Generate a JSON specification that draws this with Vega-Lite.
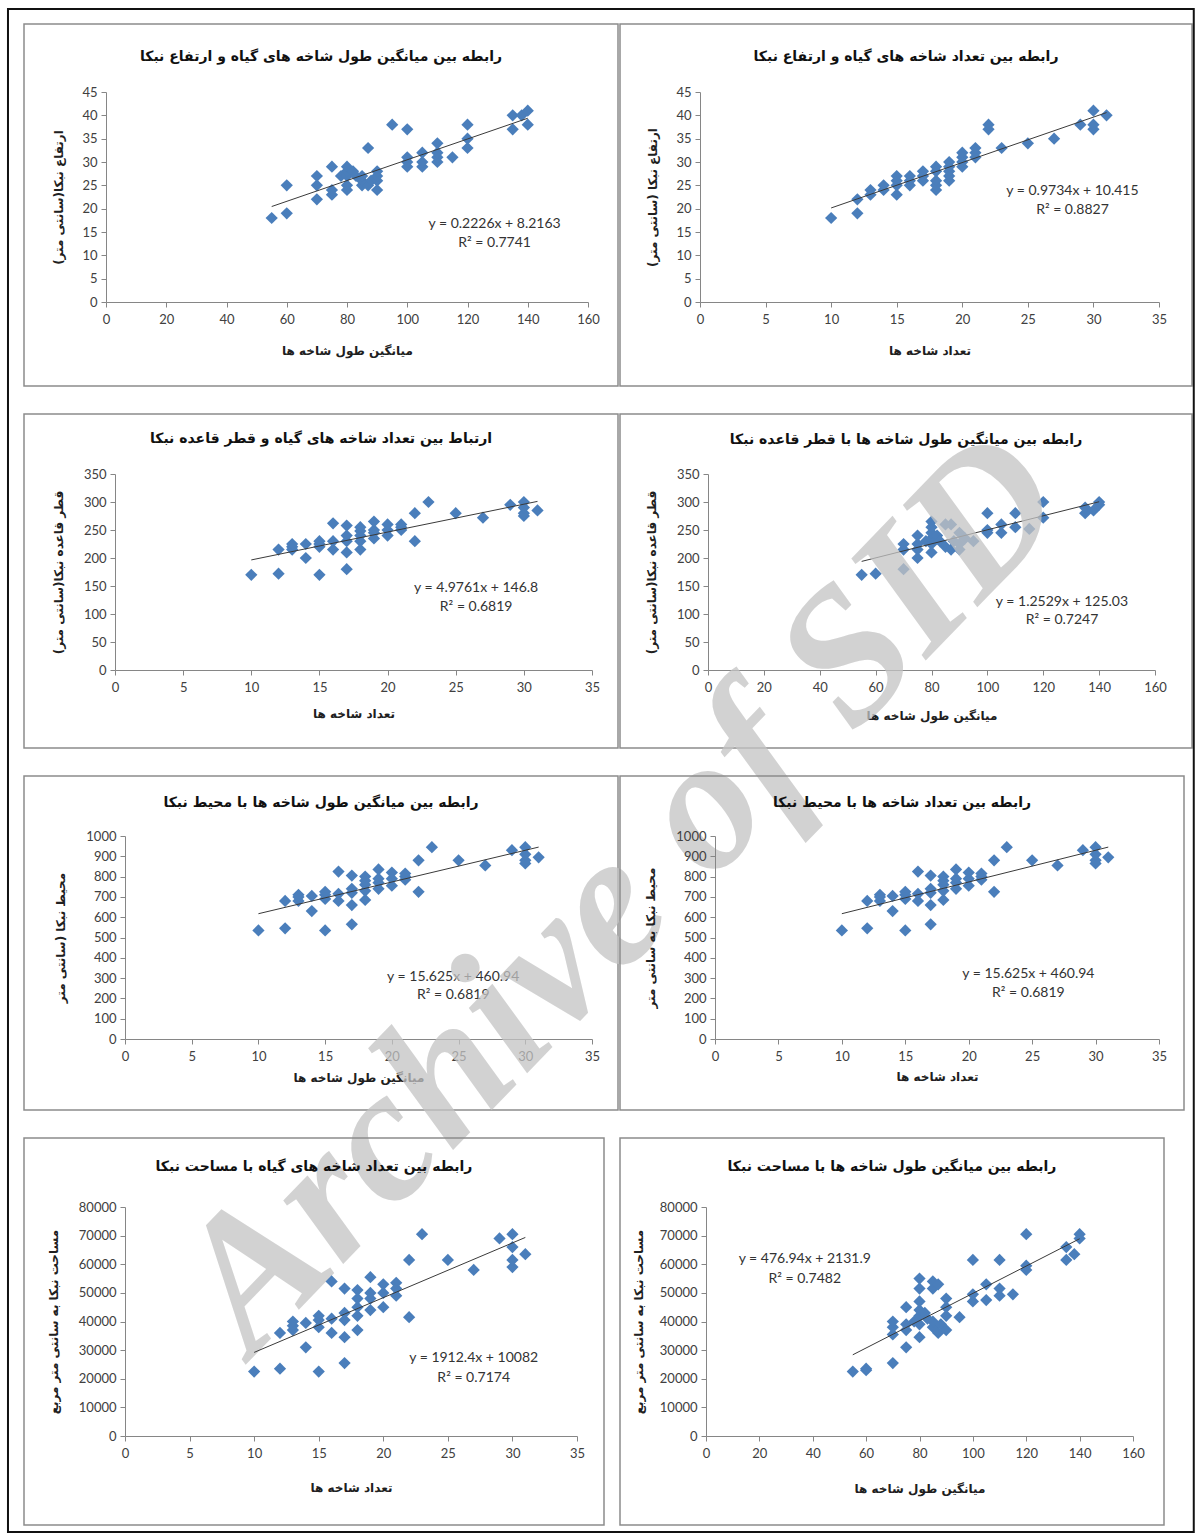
{
  "$schema": "https://vega.github.io/schema/vega-lite/v6.json",
  "padding": {"left": 6, "top": 7, "right": 0, "bottom": 0},
  "background": "white",
  "bounds": "flush",
  "columns": 2,
  "spacing": {"row": 28, "column": 2},
  "datasets": {
    "p1": [{"x":55,"y":18},{"x":60,"y":19},{"x":60,"y":25},{"x":70,"y":22},{"x":70,"y":25},{"x":70,"y":27},{"x":75,"y":23},{"x":75,"y":24},{"x":75,"y":29},{"x":78,"y":27},{"x":80,"y":24},{"x":80,"y":25},{"x":80,"y":27},{"x":80,"y":28},{"x":80,"y":29},{"x":82,"y":28},{"x":83,"y":27},{"x":85,"y":25},{"x":85,"y":26},{"x":85,"y":27},{"x":87,"y":25},{"x":87,"y":33},{"x":88,"y":26},{"x":90,"y":24},{"x":90,"y":26},{"x":90,"y":27},{"x":90,"y":28},{"x":95,"y":38},{"x":100,"y":29},{"x":100,"y":30},{"x":100,"y":31},{"x":100,"y":37},{"x":105,"y":29},{"x":105,"y":30},{"x":105,"y":32},{"x":110,"y":30},{"x":110,"y":31},{"x":110,"y":32},{"x":110,"y":34},{"x":115,"y":31},{"x":120,"y":33},{"x":120,"y":35},{"x":120,"y":38},{"x":135,"y":37},{"x":135,"y":40},{"x":138,"y":40},{"x":140,"y":38},{"x":140,"y":41}],
    "p2": [{"x":10,"y":18},{"x":12,"y":19},{"x":12,"y":22},{"x":13,"y":23},{"x":13,"y":24},{"x":14,"y":24},{"x":14,"y":25},{"x":15,"y":23},{"x":15,"y":25},{"x":15,"y":26},{"x":15,"y":27},{"x":16,"y":25},{"x":16,"y":26},{"x":16,"y":27},{"x":17,"y":26},{"x":17,"y":27},{"x":17,"y":28},{"x":18,"y":24},{"x":18,"y":25},{"x":18,"y":26},{"x":18,"y":28},{"x":18,"y":29},{"x":19,"y":26},{"x":19,"y":27},{"x":19,"y":28},{"x":19,"y":29},{"x":19,"y":30},{"x":20,"y":29},{"x":20,"y":30},{"x":20,"y":31},{"x":20,"y":32},{"x":21,"y":31},{"x":21,"y":32},{"x":21,"y":33},{"x":22,"y":37},{"x":22,"y":38},{"x":23,"y":33},{"x":25,"y":34},{"x":27,"y":35},{"x":29,"y":38},{"x":30,"y":37},{"x":30,"y":38},{"x":30,"y":41},{"x":31,"y":40}],
    "p3": [{"x":10,"y":170},{"x":12,"y":172},{"x":12,"y":215},{"x":13,"y":215},{"x":13,"y":220},{"x":13,"y":225},{"x":14,"y":200},{"x":14,"y":225},{"x":15,"y":170},{"x":15,"y":220},{"x":15,"y":225},{"x":15,"y":230},{"x":16,"y":215},{"x":16,"y":230},{"x":16,"y":262},{"x":17,"y":180},{"x":17,"y":210},{"x":17,"y":230},{"x":17,"y":240},{"x":17,"y":258},{"x":18,"y":215},{"x":18,"y":230},{"x":18,"y":240},{"x":18,"y":248},{"x":18,"y":255},{"x":19,"y":235},{"x":19,"y":245},{"x":19,"y":250},{"x":19,"y":265},{"x":20,"y":240},{"x":20,"y":250},{"x":20,"y":260},{"x":21,"y":250},{"x":21,"y":255},{"x":21,"y":260},{"x":22,"y":230},{"x":22,"y":280},{"x":23,"y":300},{"x":25,"y":280},{"x":27,"y":272},{"x":29,"y":295},{"x":30,"y":275},{"x":30,"y":280},{"x":30,"y":290},{"x":30,"y":300},{"x":31,"y":285}],
    "p4": [{"x":55,"y":170},{"x":60,"y":172},{"x":70,"y":180},{"x":70,"y":215},{"x":70,"y":225},{"x":75,"y":200},{"x":75,"y":215},{"x":75,"y":225},{"x":75,"y":240},{"x":78,"y":230},{"x":80,"y":210},{"x":80,"y":225},{"x":80,"y":235},{"x":80,"y":245},{"x":80,"y":255},{"x":80,"y":265},{"x":82,"y":240},{"x":83,"y":230},{"x":85,"y":220},{"x":85,"y":260},{"x":87,"y":215},{"x":87,"y":260},{"x":88,"y":230},{"x":90,"y":215},{"x":90,"y":225},{"x":90,"y":245},{"x":92,"y":235},{"x":95,"y":230},{"x":100,"y":245},{"x":100,"y":250},{"x":100,"y":280},{"x":105,"y":245},{"x":105,"y":260},{"x":110,"y":255},{"x":110,"y":280},{"x":115,"y":252},{"x":120,"y":272},{"x":120,"y":300},{"x":135,"y":280},{"x":135,"y":290},{"x":138,"y":285},{"x":140,"y":295},{"x":140,"y":300}],
    "circ": [{"x":10,"y":535},{"x":12,"y":545},{"x":12,"y":680},{"x":13,"y":680},{"x":13,"y":700},{"x":13,"y":710},{"x":14,"y":630},{"x":14,"y":705},{"x":15,"y":535},{"x":15,"y":690},{"x":15,"y":710},{"x":15,"y":725},{"x":16,"y":680},{"x":16,"y":715},{"x":16,"y":825},{"x":17,"y":565},{"x":17,"y":660},{"x":17,"y":720},{"x":17,"y":740},{"x":17,"y":805},{"x":18,"y":685},{"x":18,"y":730},{"x":18,"y":760},{"x":18,"y":780},{"x":18,"y":800},{"x":19,"y":740},{"x":19,"y":770},{"x":19,"y":790},{"x":19,"y":835},{"x":20,"y":755},{"x":20,"y":790},{"x":20,"y":820},{"x":21,"y":785},{"x":21,"y":800},{"x":21,"y":815},{"x":22,"y":725},{"x":22,"y":880},{"x":23,"y":945},{"x":25,"y":880},{"x":27,"y":855},{"x":29,"y":930},{"x":30,"y":865},{"x":30,"y":880},{"x":30,"y":910},{"x":30,"y":945},{"x":31,"y":895}],
    "p7": [{"x":10,"y":22500},{"x":12,"y":23500},{"x":12,"y":36000},{"x":13,"y":37000},{"x":13,"y":38500},{"x":13,"y":40000},{"x":14,"y":31000},{"x":14,"y":39500},{"x":15,"y":22500},{"x":15,"y":38000},{"x":15,"y":40500},{"x":15,"y":42000},{"x":16,"y":36000},{"x":16,"y":41000},{"x":16,"y":54000},{"x":17,"y":25500},{"x":17,"y":34500},{"x":17,"y":40500},{"x":17,"y":43000},{"x":17,"y":51500},{"x":18,"y":37000},{"x":18,"y":42000},{"x":18,"y":45000},{"x":18,"y":48000},{"x":18,"y":51000},{"x":19,"y":44000},{"x":19,"y":48000},{"x":19,"y":50000},{"x":19,"y":55500},{"x":20,"y":45000},{"x":20,"y":50000},{"x":20,"y":53000},{"x":21,"y":49000},{"x":21,"y":51500},{"x":21,"y":53500},{"x":22,"y":41500},{"x":22,"y":61500},{"x":23,"y":70500},{"x":25,"y":61500},{"x":27,"y":58000},{"x":29,"y":69000},{"x":30,"y":59000},{"x":30,"y":61500},{"x":30,"y":66000},{"x":30,"y":70500},{"x":31,"y":63500}],
    "p8": [{"x":55,"y":22500},{"x":60,"y":23000},{"x":60,"y":23500},{"x":70,"y":25500},{"x":70,"y":35500},{"x":70,"y":38000},{"x":70,"y":40000},{"x":75,"y":31000},{"x":75,"y":37000},{"x":75,"y":39000},{"x":75,"y":45000},{"x":78,"y":40000},{"x":80,"y":34500},{"x":80,"y":39000},{"x":80,"y":42000},{"x":80,"y":44000},{"x":80,"y":47000},{"x":80,"y":51500},{"x":80,"y":55000},{"x":82,"y":43000},{"x":83,"y":41000},{"x":85,"y":38000},{"x":85,"y":40000},{"x":85,"y":51500},{"x":85,"y":54000},{"x":87,"y":36000},{"x":87,"y":53000},{"x":88,"y":39000},{"x":90,"y":37000},{"x":90,"y":42000},{"x":90,"y":45000},{"x":90,"y":48000},{"x":95,"y":41500},{"x":100,"y":47000},{"x":100,"y":49500},{"x":100,"y":61500},{"x":105,"y":47500},{"x":105,"y":53000},{"x":110,"y":49000},{"x":110,"y":51500},{"x":110,"y":61500},{"x":115,"y":49500},{"x":120,"y":58000},{"x":120,"y":59500},{"x":120,"y":70500},{"x":135,"y":61500},{"x":135,"y":66000},{"x":138,"y":63500},{"x":140,"y":69000},{"x":140,"y":70500}],
    "l1": [{"x":55,"y":20.46},{"x":140,"y":39.38}],
    "l2": [{"x":10,"y":20.15},{"x":31,"y":40.59}],
    "l3": [{"x":10,"y":196.56},{"x":31,"y":301.06}],
    "l4": [{"x":55,"y":193.94},{"x":140,"y":300.44}],
    "lc": [{"x":10,"y":617.19},{"x":31,"y":945.32}],
    "l7": [{"x":10,"y":29206},{"x":31,"y":69366}],
    "l8": [{"x":55,"y":28363},{"x":140,"y":68903}]
  },
  "concat": [
    {
      "width": 594, "height": 362,
      "title": {"text": "رابطه بین میانگین طول شاخه های گیاه و ارتفاع نبکا", "offset": -40},
      "layer": [
        {"data": {"name": "p1"}, "mark": {"type": "point", "shape": "diamond", "filled": true, "size": 150, "color": "#4a7ebb", "opacity": 1},
         "encoding": {
           "x": {"field": "x", "type": "quantitative", "scale": {"domain": [0, 160], "range": [82, 564], "nice": false, "zero": false}, "axis": {"title": "میانگین طول شاخه ها", "values": [0,20,40,60,80,100,120,140,160], "tickCount": 30, "offset": -84, "titlePadding": 19, "labelOverlap": false}},
           "y": {"field": "y", "type": "quantitative", "scale": {"domain": [0, 45], "range": [278, 68], "nice": false, "zero": false}, "axis": {"title": "ارتفاع نبکا(سانتی متر)", "values": [0,5,10,15,20,25,30,35,40,45], "tickCount": 30, "offset": -82, "titlePadding": 16, "labelOverlap": false}}
         }},
        {"data": {"name": "l1"}, "mark": {"type": "line", "color": "#3a3a3a", "strokeWidth": 1},
         "encoding": {"x": {"field": "x", "type": "quantitative"}, "y": {"field": "y", "type": "quantitative"}}},
        {"data": {"values": [{}]}, "mark": {"type": "text", "font": "Lato", "fontSize": 14, "color": "#333333"},
         "encoding": {"x": {"datum": 129, "type": "quantitative"}, "y": {"datum": 16.7, "type": "quantitative"}, "text": {"value": "y = 0.2226x + 8.2163"}}},
        {"data": {"values": [{}]}, "mark": {"type": "text", "font": "Lato", "fontSize": 14, "color": "#333333"},
         "encoding": {"x": {"datum": 129, "type": "quantitative"}, "y": {"datum": 12.6, "type": "quantitative"}, "text": {"value": "R² = 0.7741"}}}
      ]
    },
    {
      "width": 572, "height": 362,
      "title": {"text": "رابطه بین تعداد شاخه های گیاه و ارتفاع نبکا", "offset": -40},
      "layer": [
        {"data": {"name": "p2"}, "mark": {"type": "point", "shape": "diamond", "filled": true, "size": 150, "color": "#4a7ebb", "opacity": 1},
         "encoding": {
           "x": {"field": "x", "type": "quantitative", "scale": {"domain": [0, 35], "range": [80, 539], "nice": false, "zero": false}, "axis": {"title": "تعداد شاخه ها", "values": [0,5,10,15,20,25,30,35], "tickCount": 30, "offset": -84, "titlePadding": 19, "labelOverlap": false}},
           "y": {"field": "y", "type": "quantitative", "scale": {"domain": [0, 45], "range": [278, 68], "nice": false, "zero": false}, "axis": {"title": "ارتفاع نبکا (سانتی متر)", "values": [0,5,10,15,20,25,30,35,40,45], "tickCount": 30, "offset": -80, "titlePadding": 16, "labelOverlap": false}}
         }},
        {"data": {"name": "l2"}, "mark": {"type": "line", "color": "#3a3a3a", "strokeWidth": 1},
         "encoding": {"x": {"field": "x", "type": "quantitative"}, "y": {"field": "y", "type": "quantitative"}}},
        {"data": {"values": [{}]}, "mark": {"type": "text", "font": "Lato", "fontSize": 14, "color": "#333333"},
         "encoding": {"x": {"datum": 28.4, "type": "quantitative"}, "y": {"datum": 23.8, "type": "quantitative"}, "text": {"value": "y = 0.9734x + 10.415"}}},
        {"data": {"values": [{}]}, "mark": {"type": "text", "font": "Lato", "fontSize": 14, "color": "#333333"},
         "encoding": {"x": {"datum": 28.4, "type": "quantitative"}, "y": {"datum": 19.7, "type": "quantitative"}, "text": {"value": "R² = 0.8827"}}}
      ]
    },
    {
      "width": 594, "height": 334,
      "title": {"text": "ارتباط بین تعداد شاخه های گیاه و قطر قاعده نبکا", "offset": -32},
      "layer": [
        {"data": {"name": "p3"}, "mark": {"type": "point", "shape": "diamond", "filled": true, "size": 150, "color": "#4a7ebb", "opacity": 1},
         "encoding": {
           "x": {"field": "x", "type": "quantitative", "scale": {"domain": [0, 35], "range": [91, 568], "nice": false, "zero": false}, "axis": {"title": "تعداد شاخه ها", "values": [0,5,10,15,20,25,30,35], "tickCount": 30, "offset": -78, "titlePadding": 14, "labelOverlap": false}},
           "y": {"field": "y", "type": "quantitative", "scale": {"domain": [0, 350], "range": [256, 60], "nice": false, "zero": false}, "axis": {"title": "قطر قاعده نبکا(سانتی متر)", "values": [0,50,100,150,200,250,300,350], "tickCount": 30, "offset": -91, "titlePadding": 18, "labelOverlap": false}}
         }},
        {"data": {"name": "l3"}, "mark": {"type": "line", "color": "#3a3a3a", "strokeWidth": 1},
         "encoding": {"x": {"field": "x", "type": "quantitative"}, "y": {"field": "y", "type": "quantitative"}}},
        {"data": {"values": [{}]}, "mark": {"type": "text", "font": "Lato", "fontSize": 14, "color": "#333333"},
         "encoding": {"x": {"datum": 26.5, "type": "quantitative"}, "y": {"datum": 146, "type": "quantitative"}, "text": {"value": "y = 4.9761x + 146.8"}}},
        {"data": {"values": [{}]}, "mark": {"type": "text", "font": "Lato", "fontSize": 14, "color": "#333333"},
         "encoding": {"x": {"datum": 26.5, "type": "quantitative"}, "y": {"datum": 112, "type": "quantitative"}, "text": {"value": "R² = 0.6819"}}}
      ]
    },
    {
      "width": 572, "height": 334,
      "title": {"text": "رابطه بین میانگین طول شاخه ها با قطر قاعده نبکا", "offset": -33},
      "layer": [
        {"data": {"name": "p4"}, "mark": {"type": "point", "shape": "diamond", "filled": true, "size": 150, "color": "#4a7ebb", "opacity": 1},
         "encoding": {
           "x": {"field": "x", "type": "quantitative", "scale": {"domain": [0, 160], "range": [88, 535], "nice": false, "zero": false}, "axis": {"title": "میانگین طول شاخه ها", "values": [0,20,40,60,80,100,120,140,160], "tickCount": 30, "offset": -78, "titlePadding": 16, "labelOverlap": false}},
           "y": {"field": "y", "type": "quantitative", "scale": {"domain": [0, 350], "range": [256, 60], "nice": false, "zero": false}, "axis": {"title": "قطر قاعده نبکا(سانتی متر)", "values": [0,50,100,150,200,250,300,350], "tickCount": 30, "offset": -88, "titlePadding": 18, "labelOverlap": false}}
         }},
        {"data": {"name": "l4"}, "mark": {"type": "line", "color": "#3a3a3a", "strokeWidth": 1},
         "encoding": {"x": {"field": "x", "type": "quantitative"}, "y": {"field": "y", "type": "quantitative"}}},
        {"data": {"values": [{}]}, "mark": {"type": "text", "font": "Lato", "fontSize": 14, "color": "#333333"},
         "encoding": {"x": {"datum": 126.7, "type": "quantitative"}, "y": {"datum": 121, "type": "quantitative"}, "text": {"value": "y = 1.2529x + 125.03"}}},
        {"data": {"values": [{}]}, "mark": {"type": "text", "font": "Lato", "fontSize": 14, "color": "#333333"},
         "encoding": {"x": {"datum": 126.7, "type": "quantitative"}, "y": {"datum": 89, "type": "quantitative"}, "text": {"value": "R² = 0.7247"}}}
      ]
    },
    {
      "width": 594, "height": 334,
      "layer": [
        {"data": {"name": "circ"}, "mark": {"type": "point", "shape": "diamond", "filled": true, "size": 150, "color": "#4a7ebb", "opacity": 1},
         "encoding": {
           "x": {"field": "x", "type": "quantitative", "scale": {"domain": [0, 35], "range": [101, 568], "nice": false, "zero": false}, "axis": {"title": "میانگین طول شاخه ها", "values": [0,5,10,15,20,25,30,35], "tickCount": 30, "offset": -71, "titlePadding": 9, "labelOverlap": false}},
           "y": {"field": "y", "type": "quantitative", "scale": {"domain": [0, 1000], "range": [263, 60], "nice": false, "zero": false}, "axis": {"title": "محیط نبکا (سانتی متر", "values": [0,100,200,300,400,500,600,700,800,900,1000], "tickCount": 30, "offset": -101, "titlePadding": 18, "labelOverlap": false}}
         }},
        {"data": {"name": "lc"}, "mark": {"type": "line", "color": "#3a3a3a", "strokeWidth": 1},
         "encoding": {"x": {"field": "x", "type": "quantitative"}, "y": {"field": "y", "type": "quantitative"}}},
        {"data": {"values": [{}]}, "mark": {"type": "text", "font": "DejaVu Sans", "fontWeight": "bold", "fontSize": 14, "color": "#111111"},
         "encoding": {"x": {"datum": 14.69, "type": "quantitative"}, "y": {"datum": 1162, "type": "quantitative"}, "text": {"value": "رابطه بین میانگین طول شاخه ها با محیط نبکا"}}},
        {"data": {"values": [{}]}, "mark": {"type": "text", "font": "Lato", "fontSize": 14, "color": "#333333"},
         "encoding": {"x": {"datum": 24.6, "type": "quantitative"}, "y": {"datum": 305, "type": "quantitative"}, "text": {"value": "y = 15.625x + 460.94"}}},
        {"data": {"values": [{}]}, "mark": {"type": "text", "font": "Lato", "fontSize": 14, "color": "#333333"},
         "encoding": {"x": {"datum": 24.6, "type": "quantitative"}, "y": {"datum": 217, "type": "quantitative"}, "text": {"value": "R² = 0.6819"}}},
        {"data": {"values": [{}]}, "mark": {"type": "text", "font": "Liberation Serif", "fontStyle": "italic", "fontWeight": "bold", "fontSize": 190, "angle": -46, "color": "#c4c4c4", "opacity": 0.75, "align": "center", "baseline": "middle"},
         "encoding": {"x": {"datum": 37.25, "type": "quantitative"}, "y": {"datum": 719, "type": "quantitative"}, "text": {"value": "Archive of SID"}}},
        {"data": {"values": [{}]}, "mark": {"type": "rect", "fillOpacity": 0, "stroke": "#111111", "strokeWidth": 2},
         "encoding": {"x": {"datum": -8.77, "type": "quantitative"}, "x2": {"datum": 80.1}, "y": {"datum": 5074, "type": "quantitative"}, "y2": {"datum": -2429}}}
      ]
    },
    {
      "width": 564, "height": 334,
      "title": {"text": "رابطه بین تعداد شاخه ها با محیط نبکا", "offset": -34},
      "layer": [
        {"data": {"name": "circ"}, "mark": {"type": "point", "shape": "diamond", "filled": true, "size": 150, "color": "#4a7ebb", "opacity": 1},
         "encoding": {
           "x": {"field": "x", "type": "quantitative", "scale": {"domain": [0, 35], "range": [95, 539], "nice": false, "zero": false}, "axis": {"title": "تعداد شاخه ها", "values": [0,5,10,15,20,25,30,35], "tickCount": 30, "offset": -71, "titlePadding": 8, "labelOverlap": false}},
           "y": {"field": "y", "type": "quantitative", "scale": {"domain": [0, 1000], "range": [263, 60], "nice": false, "zero": false}, "axis": {"title": "محیط نبکا به سانتی متر", "values": [0,100,200,300,400,500,600,700,800,900,1000], "tickCount": 30, "offset": -95, "titlePadding": 18, "labelOverlap": false}}
         }},
        {"data": {"name": "lc"}, "mark": {"type": "line", "color": "#3a3a3a", "strokeWidth": 1},
         "encoding": {"x": {"field": "x", "type": "quantitative"}, "y": {"field": "y", "type": "quantitative"}}},
        {"data": {"values": [{}]}, "mark": {"type": "text", "font": "Lato", "fontSize": 14, "color": "#333333"},
         "encoding": {"x": {"datum": 24.7, "type": "quantitative"}, "y": {"datum": 320, "type": "quantitative"}, "text": {"value": "y = 15.625x + 460.94"}}},
        {"data": {"values": [{}]}, "mark": {"type": "text", "font": "Lato", "fontSize": 14, "color": "#333333"},
         "encoding": {"x": {"datum": 24.7, "type": "quantitative"}, "y": {"datum": 227, "type": "quantitative"}, "text": {"value": "R² = 0.6819"}}}
      ]
    },
    {
      "width": 580, "height": 387,
      "title": {"text": "رابطه بین تعداد شاخه های گیاه با مساحت نبکا", "offset": -36},
      "layer": [
        {"data": {"name": "p7"}, "mark": {"type": "point", "shape": "diamond", "filled": true, "size": 150, "color": "#4a7ebb", "opacity": 1},
         "encoding": {
           "x": {"field": "x", "type": "quantitative", "scale": {"domain": [0, 35], "range": [101, 553], "nice": false, "zero": false}, "axis": {"title": "تعداد شاخه ها", "values": [0,5,10,15,20,25,30,35], "tickCount": 30, "offset": -89, "titlePadding": 22, "labelOverlap": false}},
           "y": {"field": "y", "type": "quantitative", "scale": {"domain": [0, 80000], "range": [298, 69], "nice": false, "zero": false}, "axis": {"title": "مساحت نبکا به سانتی متر مربع", "values": [0,10000,20000,30000,40000,50000,60000,70000,80000], "tickCount": 30, "offset": -101, "titlePadding": 18, "labelOverlap": false}}
         }},
        {"data": {"name": "l7"}, "mark": {"type": "line", "color": "#3a3a3a", "strokeWidth": 1},
         "encoding": {"x": {"field": "x", "type": "quantitative"}, "y": {"field": "y", "type": "quantitative"}}},
        {"data": {"values": [{}]}, "mark": {"type": "text", "font": "Lato", "fontSize": 14, "color": "#333333"},
         "encoding": {"x": {"datum": 27.0, "type": "quantitative"}, "y": {"datum": 27250, "type": "quantitative"}, "text": {"value": "y = 1912.4x + 10082"}}},
        {"data": {"values": [{}]}, "mark": {"type": "text", "font": "Lato", "fontSize": 14, "color": "#333333"},
         "encoding": {"x": {"datum": 27.0, "type": "quantitative"}, "y": {"datum": 20260, "type": "quantitative"}, "text": {"value": "R² = 0.7174"}}}
      ]
    },
    {
      "width": 544, "height": 387,
      "title": {"text": "رابطه بین میانگین طول شاخه ها با مساحت نبکا", "offset": -36},
      "layer": [
        {"data": {"name": "p8"}, "mark": {"type": "point", "shape": "diamond", "filled": true, "size": 150, "color": "#4a7ebb", "opacity": 1},
         "encoding": {
           "x": {"field": "x", "type": "quantitative", "scale": {"domain": [0, 160], "range": [86, 513], "nice": false, "zero": false}, "axis": {"title": "میانگین طول شاخه ها", "values": [0,20,40,60,80,100,120,140,160], "tickCount": 30, "offset": -89, "titlePadding": 23, "labelOverlap": false}},
           "y": {"field": "y", "type": "quantitative", "scale": {"domain": [0, 80000], "range": [298, 69], "nice": false, "zero": false}, "axis": {"title": "مساحت نبکا به سانتی متر مربع", "values": [0,10000,20000,30000,40000,50000,60000,70000,80000], "tickCount": 30, "offset": -86, "titlePadding": 14, "labelOverlap": false}}
         }},
        {"data": {"name": "l8"}, "mark": {"type": "line", "color": "#3a3a3a", "strokeWidth": 1},
         "encoding": {"x": {"field": "x", "type": "quantitative"}, "y": {"field": "y", "type": "quantitative"}}},
        {"data": {"values": [{}]}, "mark": {"type": "text", "font": "Lato", "fontSize": 14, "color": "#333333"},
         "encoding": {"x": {"datum": 37, "type": "quantitative"}, "y": {"datum": 61840, "type": "quantitative"}, "text": {"value": "y = 476.94x + 2131.9"}}},
        {"data": {"values": [{}]}, "mark": {"type": "text", "font": "Lato", "fontSize": 14, "color": "#333333"},
         "encoding": {"x": {"datum": 37, "type": "quantitative"}, "y": {"datum": 54850, "type": "quantitative"}, "text": {"value": "R² = 0.7482"}}}
      ]
    }
  ],
  "config": {
    "view": {"stroke": "#8c8c8c", "strokeWidth": 1.5},
    "axis": {"grid": false, "domainColor": "#868686", "tickColor": "#868686", "tickSize": 5, "labelFont": "Lato", "labelFontSize": 13, "labelColor": "#404040", "titleFont": "DejaVu Sans", "titleFontWeight": "bold", "titleFontSize": 12, "titleColor": "#202020", "format": "d", "labelFlush": false, "labelOverlap": false},
    "axisX": {"labelPadding": 6},
    "axisY": {"labelPadding": 4},
    "title": {"font": "DejaVu Sans", "fontSize": 14, "fontWeight": "bold", "color": "#111111", "anchor": "middle", "frame": "group"}
  }
}
